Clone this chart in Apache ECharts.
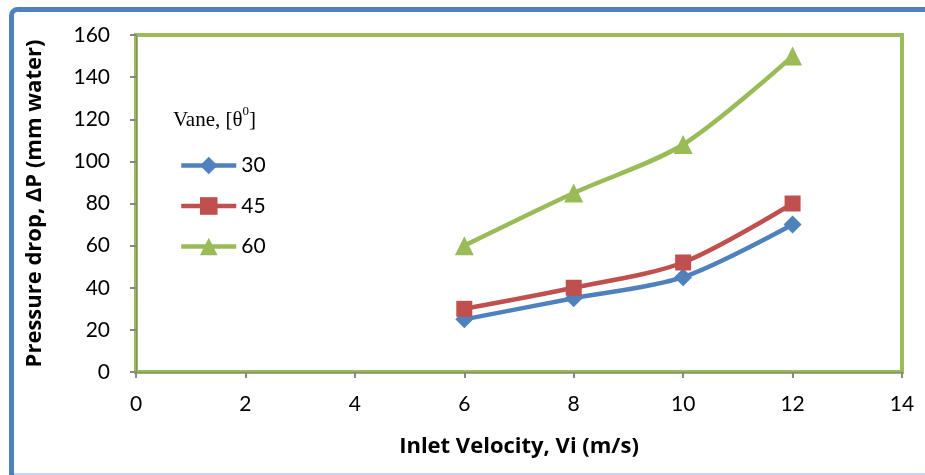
<!DOCTYPE html>
<html><head><meta charset="utf-8">
<script src="https://cdn.jsdelivr.net/npm/echarts@6/dist/echarts.min.js"></script>
<style>html,body{margin:0;padding:0;background:#fff}#c{width:925px;height:475px}</style>
</head><body><div id="c"></div>
<script>
const velocity = [6, 8, 10, 12];
const vane30 = [25, 35, 45, 70];
const vane45 = [30, 40, 52, 80];
const vane60 = [60, 85, 108, 150];
const seriesNames = ['30', '45', '60'];
const xTitle = 'Inlet Velocity, Vi (m/s)';
const yTitle = 'Pressure drop, ΔP (mm water)';

const colors = ['#4F81BD', '#C0504D', '#9BBB59'];
const symbols = ['diamond', 'rect', 'triangle'];
const sizes = [18, 16, 19];
const vals = [vane30, vane45, vane60];

const chart = echarts.init(document.getElementById('c'));
const font = 'Lato, "Open Sans", sans-serif';
const tfont = '"Open Sans", Lato, sans-serif';
chart.setOption({
  animation: false,
  grid: {left: 136, right: 23, top: 35, bottom: 103, show: true, borderColor: '#9BBB59', borderWidth: 4, backgroundColor: 'transparent'},
  xAxis: {
    type: 'value', min: 0, max: 14, interval: 2,
    name: xTitle, nameLocation: 'middle', nameGap: 64,
    nameTextStyle: {fontFamily: tfont, fontWeight: 'bold', fontSize: 22, color: '#000'},
    axisLine: {show: true, lineStyle: {color: '#888', width: 1}},
    axisTick: {show: true, length: 6, lineStyle: {color: '#888', width: 2}},
    axisLabel: {fontFamily: font, fontSize: 21, color: '#000', margin: 22},
    splitLine: {show: false}
  },
  yAxis: {
    type: 'value', min: 0, max: 160, interval: 20,
    name: yTitle, nameLocation: 'middle', nameGap: 90,
    nameTextStyle: {fontFamily: tfont, fontWeight: 'bold', fontSize: 22, color: '#000'},
    axisLine: {show: true, lineStyle: {color: '#888', width: 1}},
    axisTick: {show: true, length: 6, lineStyle: {color: '#888', width: 2}},
    axisLabel: {fontFamily: font, fontSize: 21, color: '#000', margin: 26},
    splitLine: {show: false}
  },
  legend: {
    orient: 'vertical', left: 174, top: 150, itemWidth: 55, itemHeight: 22, itemGap: 19.5,
    lineStyle: {width: 4.5},
    textStyle: {fontFamily: font, fontSize: 21, color: '#000'},
    data: seriesNames
  },
  graphic: [
    {type: 'rect', shape: {x: 11.5, y: 9.5, width: 940, height: 500, r: 6}, style: {fill: 'none', stroke: '#4F81BD', lineWidth: 5}, silent: true},
    {type: 'line', shape: {x1: 14, y1: 474, x2: 925, y2: 474}, style: {stroke: '#C6D9F1', lineWidth: 2}, silent: true},
    {type: 'text', left: 173, top: 105, style: {
      text: '{a|Vane, [θ}{s|0}{a|]}',
      rich: {
        a: {fontFamily: '"Liberation Serif", "DejaVu Serif", serif', fontSize: 21, color: '#000', lineHeight: 26, verticalAlign: 'bottom'},
        s: {fontFamily: '"Liberation Serif", serif', fontSize: 13, color: '#000', lineHeight: 26, verticalAlign: 'top'}
      }
    }}
  ],
  series: seriesNames.map((n, i) => ({
    name: n, type: 'line', smooth: 0.3,
    data: velocity.map((v, j) => [v, vals[i][j]]),
    symbol: symbols[i], symbolSize: sizes[i],
    lineStyle: {color: colors[i], width: 4.5},
    itemStyle: {color: colors[i]},
    z: 3 + i
  }))
});
</script></body></html>
